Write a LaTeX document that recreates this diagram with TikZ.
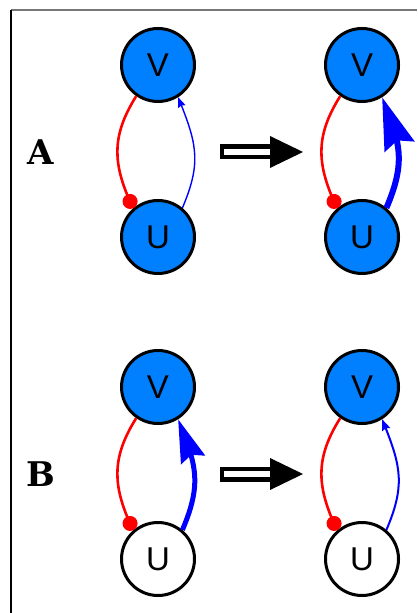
\documentclass[tikz,border=0pt]{standalone}
\usepackage{fontspec}
\setmainfont{Liberation Sans}
\newfontfamily\panelfont{DejaVu Serif}
\usetikzlibrary{arrows.meta, positioning, bending}
\definecolor{cact}{HTML}{0080FF}
\definecolor{cframe}{HTML}{777777}

\begin{document}
\begin{tikzpicture}[
  x=0.5pt, y=-0.5pt,
  font=\fontsize{16.5}{19}\selectfont,
  gene/.style={circle, draw=black, line width=1.5pt, minimum size=36.5pt, inner sep=0pt},
  on/.style={gene, fill=cact},
  off/.style={gene, fill=white},
  inhib/.style={red, line width=1.3pt, -{Circle[length=7.5pt]}},
  act/.style n args={3}{blue, line width=#1, -{Stealth[length=#2, width=#3, inset=0.12*#2]}},
  panel/.style={font=\panelfont\bfseries\fontsize{17}{19}\selectfont},
  shaft/.style={draw=black, fill=white, line width=2.25pt},
  ]
\useasboundingbox (0,0) rectangle (417,613);
% frame
\draw[cframe, line width=0.85pt] (11,10) -- (417,10);
\draw[line width=0.65pt] (11,10) -- (11,613);

% panel A
\node[on] (VA1) at (158,65) {V};
\node[on, below=48pt of VA1] (UA1) {U};
\node[on, right=64pt of VA1] (VA2) {V};
\node[on, below=48pt of VA2] (UA2) {U};
\draw[inhib] (VA1.235) to[out=238, in=115, looseness=1.1] (UA1.131);
\draw[act={0.7pt}{5pt}{3.8pt}] (UA1.50) to[out=67, in=-68, looseness=1.15] (VA1.302);
\draw[inhib] (VA2.235) to[out=238, in=115, looseness=1.1] (UA2.131);
\draw[act={3pt}{26pt}{15.5pt}] (UA2.50) to[out=67, in=-68, looseness=1.15] (VA2.302);

% panel B
\node[on] (VB1) at (158,387) {V};
\node[off, below=48pt of VB1] (UB1) {U};
\node[on, right=64pt of VB1] (VB2) {V};
\node[off, below=48pt of VB2] (UB2) {U};
\draw[inhib] (VB1.235) to[out=238, in=115, looseness=1.1] (UB1.131);
\draw[act={2.5pt}{21.5pt}{12.5pt}] (UB1.50) to[out=67, in=-68, looseness=1.15] (VB1.302);
\draw[inhib] (VB2.235) to[out=238, in=115, looseness=1.1] (UB2.131);
\draw[act={1pt}{5.5pt}{4.2pt}] (UB2.50) to[out=67, in=-68, looseness=1.15] (VB2.302);

% labels and update arrows
\foreach \y/\lab in {152/A, 474/B} {
  \node[panel] (lab\lab) at (41,\y) {\lab};
  \draw[shaft] (221.75,\y-5.25) rectangle (272,\y+5.25);
  \fill (270,\y-16) -- (303,\y) -- (270,\y+16) -- cycle;
}
\end{tikzpicture}
\end{document}
